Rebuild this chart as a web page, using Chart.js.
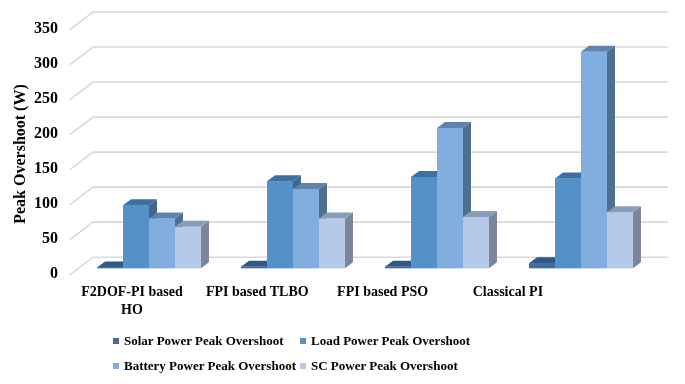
<!DOCTYPE html>
<html><head><meta charset="utf-8">
<script src="https://cdn.jsdelivr.net/npm/chart.js@4/dist/chart.umd.min.js"></script>
<style>
html,body{margin:0;padding:0;background:#fff;}
#wrap{position:relative;width:685px;height:384px;overflow:hidden;}
#legend{position:absolute;left:113px;top:328px;display:grid;grid-template-columns:187px auto;font:bold 13px "Liberation Serif","Times New Roman",serif;color:#000;}
.item{display:flex;align-items:center;height:25px;white-space:nowrap;}
.box{width:6px;height:6px;margin-right:5px;flex:none;}
</style></head>
<body>
<div id="wrap"><canvas id="c" width="685" height="384"></canvas><div id="legend"></div></div>
<script>
// ---- data ----
const categories = [['F2DOF-PI based', 'HO'], 'FPI based TLBO', 'FPI based PSO', 'Classical PI'];
const seriesNames = ['Solar Power Peak Overshoot', 'Load Power Peak Overshoot', 'Battery Power Peak Overshoot', 'SC Power Peak Overshoot'];
const solarValues = [1, 2, 2, 7];
const loadValues = [90, 124, 130, 128];
const batteryValues = [71, 113, 200, 309];
const scValues = [59, 71, 73, 80];
const yTickValues = [0, 50, 100, 150, 200, 250, 300, 350];

// ---- styles ----
const frontColors = ['#3f6d9c', '#5591c9', '#80aedf', '#b5cae8'];
const topColors = ['#2f5985', '#3f6f9f', '#5e83ad', '#8a9db8'];
const sideColors = ['#2a4f76', '#3d6790', '#4f6f92', '#7a8799'];
const FONT = '"Liberation Serif","Times New Roman",serif';
const DX = 8, DY = 6;
const yAxisMin = -24; // axis box extends below the floor so the title centres like the original

const seriesValues = [solarValues, loadValues, batteryValues, scValues];

const wallPlugin = {
  id: 'wall',
  beforeDatasetsDraw(chart) {
    const {ctx, chartArea: a, scales: {y}} = chart;
    ctx.save();
    ctx.strokeStyle = '#d9d9d9';
    ctx.lineWidth = 1.6;
    y.ticks.forEach(t => {
      const py = y.getPixelForValue(t.value);
      ctx.beginPath();
      ctx.moveTo(a.left - 7, py + 6.5);
      ctx.lineTo(a.left + 16, py - 11);
      ctx.lineTo(a.right + 15, py - 11);
      ctx.stroke();
    });
    ctx.restore();
  }
};

const bar3dPlugin = {
  id: 'bar3d',
  afterDatasetsDraw(chart) {
    const ctx = chart.ctx;
    ctx.save();
    for (let i = 0; i < categories.length; i++) {
      chart.data.datasets.forEach((ds, d) => {
        const el = chart.getDatasetMeta(d).data[i];
        if (!el) return;
        const {x, y, base, width} = el.getProps(['x', 'y', 'base', 'width'], true);
        const l = x - width / 2, r = x + width / 2;
        ctx.fillStyle = sideColors[d];
        ctx.beginPath();
        ctx.moveTo(r, y); ctx.lineTo(r + DX, y - DY); ctx.lineTo(r + DX, base - DY); ctx.lineTo(r, base);
        ctx.closePath(); ctx.fill();
        ctx.fillStyle = topColors[d];
        ctx.beginPath();
        ctx.moveTo(l, y); ctx.lineTo(l + DX, y - DY); ctx.lineTo(r + DX, y - DY); ctx.lineTo(r, y);
        ctx.closePath(); ctx.fill();
        ctx.fillStyle = frontColors[d];
        ctx.fillRect(l, y, width, base - y);
      });
    }
    ctx.restore();
  }
};

const chart = new Chart(document.getElementById('c'), {
  type: 'bar',
  data: {
    labels: categories,
    datasets: seriesNames.map((name, d) => ({
      label: name,
      data: seriesValues[d],
      backgroundColor: frontColors[d],
      borderWidth: 0,
      categoryPercentage: 0.722,
      barPercentage: 1.0
    }))
  },
  options: {
    responsive: false,
    animation: false,
    devicePixelRatio: 1,
    layout: {padding: {left: 0, right: 32, top: 23, bottom: 49}},
    plugins: {legend: {display: false}, tooltip: {enabled: false}},
    scales: {
      x: {display: false},
      xLabels: {
        type: 'linear',
        position: 'bottom',
        offset: false,
        bounds: 'data',
        min: -0.439,
        max: 4.158,
        grid: {display: false, drawTicks: false, offset: false},
        border: {display: false},
        afterBuildTicks: s => { s.ticks = categories.map((c, i) => ({value: i})); },
        afterFit: s => { s.height = 50; },
        ticks: {
          autoSkip: false,
          maxRotation: 0,
          padding: -2,
          color: '#000',
          font: {family: FONT, size: 14, weight: 'bold', lineHeight: 1.3},
          callback: v => categories[v]
        }
      },
      y: {
        bounds: 'data',
        min: yAxisMin,
        max: yTickValues[yTickValues.length - 1],
        grid: {display: false, drawTicks: true, tickLength: 19},
        border: {display: false},
        afterBuildTicks: s => { s.ticks = yTickValues.map(v => ({value: v})); },
        ticks: {padding: 0, labelOffset: 6, color: '#000',
                font: {family: FONT, size: 16, weight: 'bold'}},
        title: {display: true, text: 'Peak Overshoot (W)', color: '#000',
                font: {family: FONT, size: 16, weight: 'bold'}, padding: {top: 11, bottom: 0}},
        afterFit: s => { s.width = 77; }
      }
    }
  },
  plugins: [wallPlugin, bar3dPlugin]
});

const legendEl = document.getElementById('legend');
chart.data.datasets.forEach((ds, d) => {
  const item = document.createElement('div');
  item.className = 'item';
  const box = document.createElement('span');
  box.className = 'box';
  box.style.background = frontColors[d];
  const txt = document.createElement('span');
  txt.textContent = ds.label;
  item.appendChild(box); item.appendChild(txt);
  legendEl.appendChild(item);
});
</script>
</body></html>
